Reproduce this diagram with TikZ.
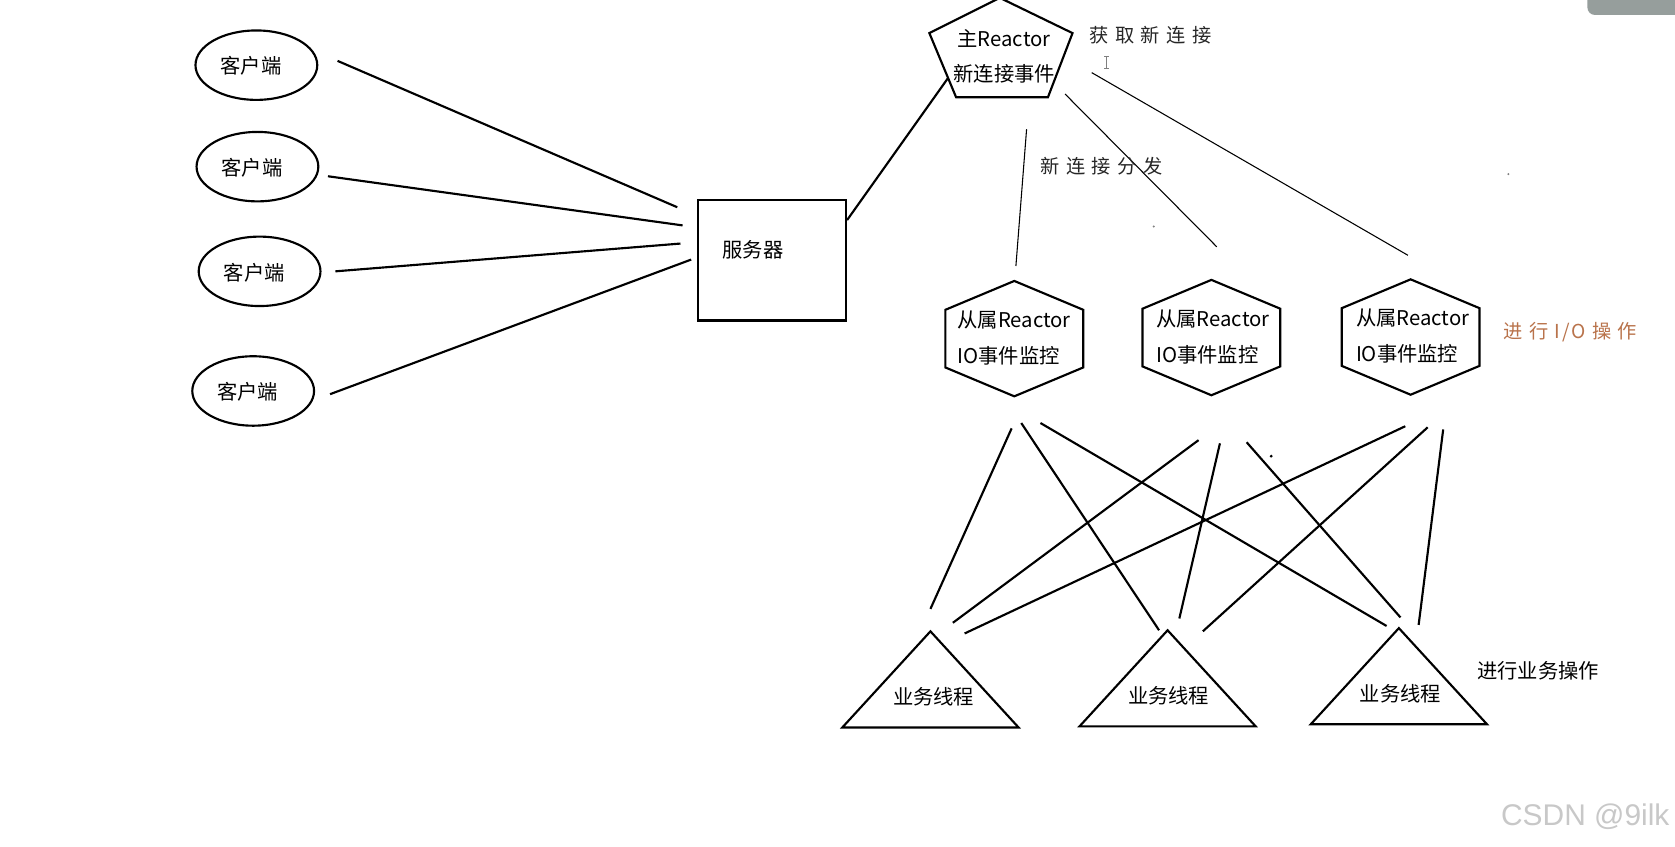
\documentclass[tikz,border=0pt]{standalone}
\usepackage{fontspec}
\setmainfont{Noto Sans CJK SC}
\newfontfamily\cjk{Noto Sans CJK SC}
\newfontfamily\wmfont{Liberation Sans}
\usetikzlibrary{shapes.geometric,calc}
\definecolor{iobrown}{RGB}{185,115,75}
\definecolor{avatar}{RGB}{150,158,156}
\definecolor{wmgray}{RGB}{200,200,200}
\begin{document}
\begin{tikzpicture}[x=0.5pt,y=-0.5pt,
 txt/.style={font=\cjk\fontsize{9.5}{16.5}\selectfont, inner sep=0pt, align=center},
 client/.style={ellipse, draw, line width=1pt, minimum width=57pt, minimum height=32.5pt, inner sep=0pt},
 server/.style={rectangle, draw, line width=1pt, minimum width=69.5pt, minimum height=56.5pt, inner sep=0pt},
 link/.style={line width=1pt},
 thinlink/.style={line width=0.5pt},
 shapeline/.style={line width=1pt, line join=miter},
 note/.style={font=\cjk\fontsize{9}{11}\selectfont, inner sep=0pt, text=black!85},
 hexa/.pic={\draw[shapeline] (0,-54) -- (64.5,-27) -- (64.5,27) -- (0,54) -- (-64.5,27) -- (-64.5,-27) -- cycle;},
 tria/.pic={\draw[shapeline] (0,0) -- (82.5,90) -- (-82.5,90) -- cycle;}
]
\fill[white] (0,0) rectangle (1568,792);
\useasboundingbox (0,0) rectangle (1568,792);

% clients and server
\node[client] (c1) at (240,61) {};
\node[client] (c2) at (241,156) {};
\node[client] (c3) at (243,254) {};
\node[client] (c4) at (237,366) {};
\node[txt] (c1t) at ($(c1)+(-5,1)$) {客户端};
\node[txt] (c2t) at ($(c2)+(-5,1)$) {客户端};
\node[txt] (c3t) at ($(c3)+(-5,1)$) {客户端};
\node[txt] (c4t) at ($(c4)+(-5,1)$) {客户端};
\node[server] (srv) at (722.5,243.5) {};
\node[txt] (srvt) at (705,234) {服务器};

\draw[link] ($(c1.east)+(18,-4)$) -- ($(srv.west)+(-18,-49.5)$);
\draw[link] ($(c2.east)+(8,9)$) -- ($(srv.west)+(-13,-32.5)$);
\draw[link] ($(c3.east)+(13,0)$) -- ($(srv.west)+(-15,-15.5)$);
\draw[link] ($(c4.east)+(14,3)$) -- ($(srv.west)+(-5,-0.5)$);

% main reactor pentagon
\coordinate (pt) at (936,-2);
\coordinate (pl) at (870,31);
\coordinate (pr) at (1004,31);
\coordinate (pbl) at (895,91);
\coordinate (pbr) at (981,91);
\draw[shapeline] (pt) -- (pr) -- (pbr) -- (pbl) -- (pl) -- cycle;
\node[txt] (mainr) at (940,52.5) {主Reactor\\新连接事件};
\draw[link] ($(srv.east)+(0,-37.5)$) -- ($(pl)!0.7!(pbl)$);

% sub reactors
\coordinate (hc1) at (949.5,317);
\coordinate (hc2) at (1134,316);
\coordinate (hc3) at (1320.5,315.5);
\pic at (hc1) {hexa};
\pic at (hc2) {hexa};
\pic at (hc3) {hexa};
\node[txt, align=left, anchor=west] (h1) at (896,316.5) {从属Reactor\\IO事件监控};
\node[txt, align=left, anchor=west] (h2) at (1082,315.5) {从属Reactor\\IO事件监控};
\node[txt, align=left, anchor=west] (h3) at (1269,314.5) {从属Reactor\\IO事件监控};

\draw[thinlink] ($(pbl)+(66,30)$) -- ($(hc1)+(1.5,-68)$);
\draw[thinlink] ($(pbr)+(16,-3)$) -- ($(hc2)+(5,-85)$);
\draw[thinlink] ($(pr)+(18,37)$) -- ($(hc3)+(-2.5,-76.5)$);

% worker threads
\coordinate (ta1) at (871,591);
\coordinate (ta2) at (1093,590);
\coordinate (ta3) at (1309.5,588);
\pic at (ta1) {tria};
\pic at (ta2) {tria};
\pic at (ta3) {tria};
\node[txt] (w1) at ($(ta1)+(3,61)$) {业务线程};
\node[txt] (w2) at ($(ta2)+(1,61)$) {业务线程};
\node[txt] (w3) at ($(ta3)+(1.5,61)$) {业务线程};

\draw[link] ($(hc1)+(-2.5,84)$) -- ($(ta1)+(0,-21)$);
\draw[link] ($(hc1)+(6.5,79)$) -- ($(ta2)+(-8,0)$);
\draw[link] ($(hc1)+(24.5,79)$) -- ($(ta3)+(-11.5,-2)$);
\draw[link] ($(hc2)+(-12,96)$) -- ($(ta1)+(21,-8)$);
\draw[link] ($(hc2)+(8,99)$) -- ($(ta2)+(11,-11)$);
\draw[link] ($(hc2)+(33,98)$) -- ($(ta3)+(1.5,-10)$);
\draw[link] ($(hc3)+(-5,83.5)$) -- ($(ta1)+(32,2)$);
\draw[link] ($(hc3)+(16,84.5)$) -- ($(ta2)+(33,1)$);
\draw[link] ($(hc3)+(30.5,86.5)$) -- ($(ta3)+(18.5,-3)$);

% labels
\node[note] (get) at (1077,33) {获\kern3pt取\kern3pt新\kern3pt连\kern3pt接};
\node[note] (dist) at (1031,156) {新\kern3pt连\kern3pt接\kern3pt分\kern3pt发};
\node[note, text=iobrown] (io) at (1470,311) {进\kern3pt行\kern3pt I\kern0.8pt/\kern0.8pt O\kern3pt操\kern3pt作};
\node[txt] (biz) at (1440,628) {进行业务操作};
\node[font=\wmfont\fontsize{14}{16}\selectfont, text=wmgray, inner sep=0pt] (wm) at (1484,765) {CSDN @9ilk};

% screen artefacts
\draw[gray, line width=0.5pt] (1036,53) -- (1036,64) (1033.5,53) -- (1038.5,53) (1033.5,64) -- (1038.5,64);
\fill (1190,427) circle (1.5);
\fill[gray] (1080,212) circle (1);
\fill[gray] (1412,163) circle (1);
\fill[avatar] (1568,0) -- (1486,0) -- (1486,7) arc[start angle=180,end angle=90,radius=7] -- (1568,14) -- cycle;
\end{tikzpicture}
\end{document}
